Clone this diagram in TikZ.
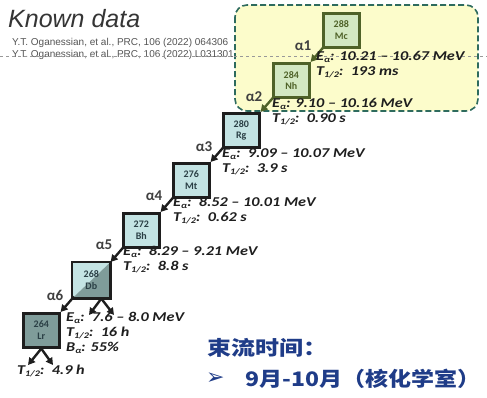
\documentclass[tikz,border=0pt]{standalone}
\usepackage{fontspec}
\usepackage{graphicx}
\usetikzlibrary{arrows.meta}
\setmainfont{Carlito}
\newfontfamily\arialf{Liberation Sans}
\newfontfamily\cjk{Noto Sans CJK SC}
\newfontfamily\djv{DejaVu Sans}
\definecolor{olv}{HTML}{4F6228}
\definecolor{gfill}{HTML}{D3E8C2}
\definecolor{cfill}{HTML}{C4E4E4}
\definecolor{gtfill}{HTML}{7F9C9A}
\definecolor{yfill}{HTML}{FCFCCB}
\definecolor{ybord}{HTML}{2E6B5E}
\definecolor{txt}{HTML}{1E1E1E}
\definecolor{boxtxt}{HTML}{2A3F45}
\definecolor{cjkblue}{HTML}{1F3C88}
\definecolor{refgray}{HTML}{555555}
\newcommand\subx[1]{\raisebox{-0.35ex}{\fontsize{8.5}{8.5}\selectfont #1}}
\newcommand\wide[1]{\scalebox{1.2}[1]{#1}}
\newcommand\widecjk[1]{\scalebox{1.2}[1]{#1}}
\newcommand\widecjkb[1]{\scalebox{1.15}[1]{#1}}
\tikzset{
  info/.style={anchor=west, font=\fontsize{13.5}{13.5}\selectfont\bfseries\itshape, text=txt, inner sep=0pt},
  alab/.style={font=\fontsize{15}{15}\selectfont\bfseries, text=txt!85, inner sep=0pt},
  nucbox/.style={line width=2.6pt, minimum width=36pt, minimum height=34pt, anchor=north west, inner sep=0pt, align=center, font=\fontsize{10}{11.5}\selectfont\bfseries},
  gbox/.style={nucbox, draw=olv, fill=gfill, text=olv},
  cbox/.style={nucbox, draw=txt, fill=cfill, text=boxtxt},
  arr/.style={line width=2.4pt, draw=txt, -{Triangle[length=7pt,width=7.5pt]}},
  garr/.style={arr, draw=olv}
}
\begin{document}
\begin{tikzpicture}[x=1pt,y=-1pt]
\useasboundingbox (0,0) rectangle (487,397);
\fill[white] (0,0) rectangle (487,397);
% highlighted region
\draw[ybord, fill=yfill, line width=1.6pt, dash pattern=on 6pt off 3pt, rounded corners=12pt] (235,5) rectangle (478,111);
% title and references
\node[anchor=west, inner sep=0pt, font=\arialf\itshape\fontsize{25}{25}\selectfont, text=txt!90] (title) at (8,19) {Known data};
\node[anchor=west, inner sep=0pt, font=\arialf\fontsize{10}{10}\selectfont, text=refgray] (ref1) at (12,43) {Y.T. Oganessian, et al., PRC, 106 (2022) 064306};
\node[anchor=west, inner sep=0pt, font=\arialf\fontsize{10}{10}\selectfont, text=refgray] (ref2) at (12,55) {Y.T. Oganessian, et al., PRC, 106 (2022) L031301};
\draw[refgray!60, line width=0.6pt, dash pattern=on 3pt off 3pt] (0,56) -- (487,56);
% nuclei boxes
\node[gbox] (Mc) at (322,12) {288\\Mc};
\node[gbox] (Nh) at (272,62) {284\\Nh};
\node[cbox] (Rg) at (222,112) {280\\Rg};
\node[cbox] (Mt) at (172,162) {276\\Mt};
\node[cbox] (Bh) at (122,212) {272\\Bh};
\node[nucbox] (Db) at (72,262) {};
\fill[cfill] (Db.north west) -- (Db.north east) -- (Db.south west) -- cycle;
\fill[gtfill] (Db.north east) -- (Db.south east) -- (Db.south west) -- cycle;
\draw[txt, line width=2.6pt] (Db.north west) rectangle (Db.south east);
\node[font=\fontsize{10}{11.5}\selectfont\bfseries, text=boxtxt, align=center, inner sep=0pt] at (Db.center) {268\\Db};
\node[nucbox, draw=txt, fill=gtfill, text=boxtxt] (Lr) at (22,312) {264\\Lr};
% alpha decays
\draw[garr] ([shift={(2,-2)}]Mc.south west) -- (Nh.north east);
\draw[garr] ([shift={(2,-2)}]Nh.south west) -- (Rg.north east);
\draw[arr] ([shift={(2,-2)}]Rg.south west) -- (Mt.north east);
\draw[arr] ([shift={(2,-2)}]Mt.south west) -- (Bh.north east);
\draw[arr] ([shift={(2,-2)}]Bh.south west) -- (Db.north east);
\draw[arr] ([shift={(2,-2)}]Db.south west) -- (Lr.north east);
\node[alab] (a1) at (303,46) {α1};
\node[alab] (a2) at (254,97) {α2};
\node[alab] (a3) at (204,147) {α3};
\node[alab] (a4) at (154,196) {α4};
\node[alab] (a5) at (104,245) {α5};
\node[alab] (a6) at (55,295) {α6};
% fission forks
\coordinate (dbf) at ([xshift=10pt]Db.south);
\coordinate (dbl) at (89,315);
\coordinate (dbr) at (114,315);
\draw[arr] (dbf) -- (dbl);
\draw[arr] (dbf) -- (dbr);
\coordinate (lrf) at (Lr.south);
\coordinate (lrl) at (28,365);
\coordinate (lrr) at (53,365);
\draw[arr] (lrf) -- (lrl);
\draw[arr] (lrf) -- (lrr);
% decay data
\node[info] (e1) at (316,57) {\wide{E\subx{α}: 10.21 -- 10.67 MeV}};
\node[info] (t1) at (316,72) {\wide{T\subx{1/2}:\ \ 193 ms}};
\node[info] (e2) at (272,104) {\wide{E\subx{α}: 9.10 -- 10.16 MeV}};
\node[info] (t2) at (272,119) {\wide{T\subx{1/2}:\ \ 0.90 s}};
\node[info] (e3) at (222,154) {\wide{E\subx{α}:\ \ 9.09 -- 10.07 MeV}};
\node[info] (t3) at (222,169) {\wide{T\subx{1/2}:\ \ 3.9 s}};
\node[info] (e4) at (173,203) {\wide{E\subx{α}:\ \ 8.52 -- 10.01 MeV}};
\node[info] (t4) at (173,218) {\wide{T\subx{1/2}:\ \ 0.62 s}};
\node[info] (e5) at (123,252) {\wide{E\subx{α}:\ \ 8.29 -- 9.21 MeV}};
\node[info] (t5) at (123,267) {\wide{T\subx{1/2}:\ \ 8.8 s}};
\node[info] (e6) at (66,318) {\wide{E\subx{α}:\ \ 7.6 -- 8.0 MeV}};
\node[info] (t6) at (66,333) {\wide{T\subx{1/2}:\ \ 16 h}};
\node[info] (b6) at (66,348) {\wide{B\subx{α}: 55\%}};
\node[info] (t7) at (17,371) {\wide{T\subx{1/2}:\ \ 4.9 h}};
% beam time
\node[anchor=west, inner sep=0pt, text=cjkblue, font=\cjk\bfseries\fontsize{20}{20}\selectfont] (bt) at (207,348) {\widecjk{束流时间：}};
\node[anchor=west, inner sep=0pt, text=cjkblue, font=\djv\bfseries\fontsize{22}{22}\selectfont] (ar) at (206,379) {➢};
\node[anchor=west, inner sep=0pt, text=cjkblue, font=\cjk\bfseries\fontsize{20}{20}\selectfont] (bt2) at (245,379) {\widecjkb{9月-10月（核化学室）}};
\end{tikzpicture}
\end{document}
